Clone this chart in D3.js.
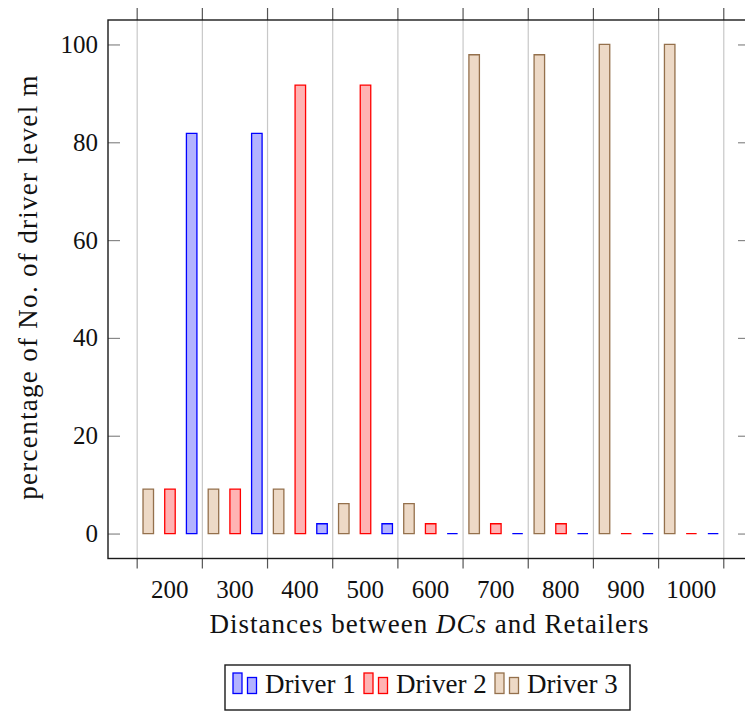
<!DOCTYPE html>
<html>
<head>
<meta charset="utf-8">
<script src="https://cdn.jsdelivr.net/npm/d3@7/dist/d3.min.js"></script>
<style>
  body { margin: 0; background: #fff; }
  svg text { font-family: 'Liberation Serif', 'DejaVu Serif', serif; fill: #111; }
</style>
</head>
<body>
<div id="chart"></div>
<script>
// categories (distance between DCs and retailers)
const distances = [200, 300, 400, 500, 600, 700, 800, 900, 1000];
const driverNames = ["Driver 1", "Driver 2", "Driver 3"];

// percentage of drivers at each level
const driver1 = [81.8, 81.8, 2, 2, 0, 0, 0, 0, 0];
const driver2 = [9.1, 9.1, 91.7, 91.7, 2, 2, 2, 0, 0];
const driver3 = [9.1, 9.1, 9.1, 6.1, 6.1, 97.9, 97.9, 100, 100];

const yTicks = [0, 20, 40, 60, 80, 100];

const FONT = "'Liberation Serif', 'DejaVu Serif', serif";

const styles = {
  "Driver 1": {stroke: "#0000ff", fill: "#b3b3ff"},
  "Driver 2": {stroke: "#ff0000", fill: "#ffb3b3"},
  "Driver 3": {stroke: "#94704c", fill: "#edd9c6"}
};

const series = [
  {name: "Driver 1", values: driver1},
  {name: "Driver 2", values: driver2},
  {name: "Driver 3", values: driver3}
];

const W = 745, H = 711;
const margin = {top: 20, left: 108};
const plotW = 642, plotH = 538.5;

const svg = d3.select("#chart").append("svg")
  .attr("width", W)
  .attr("height", H)
  .attr("font-family", FONT);

const g = svg.append("g")
  .attr("transform", "translate(" + margin.left + "," + margin.top + ")");

const x = d3.scaleLinear().domain([106, 1091]).range([0, plotW]);
const y = d3.scaleLinear().domain([-5.1, 105]).range([plotH, 0]);

// bars of one category are spread left to right as Driver 3, 2, 1
const slot = d3.scalePoint().domain(["Driver 3", "Driver 2", "Driver 1"]).range([-21, 22.4]);
const barW = 10.5;

// category boundaries carry the grid and the x tick marks
const boundaries = distances.map(d => d - 50).concat(distances[distances.length - 1] + 50);

// grid
g.append("g")
  .attr("transform", "translate(0," + plotH + ")")
  .call(d3.axisBottom(x).tickValues(boundaries).tickSize(-plotH).tickFormat(""))
  .call(s => s.select(".domain").remove())
  .selectAll("line")
  .attr("stroke", "#c8c8c8")
  .attr("stroke-width", 1.2);

// x tick marks, bottom and top, pointing out
g.append("g")
  .attr("transform", "translate(0," + plotH + ")")
  .call(d3.axisBottom(x).tickValues(boundaries).tickSize(10).tickFormat(""))
  .call(s => s.select(".domain").remove())
  .selectAll("line").attr("stroke", "#555").attr("stroke-width", 1.2);

g.append("g")
  .call(d3.axisTop(x).tickValues(boundaries).tickSize(12).tickFormat(""))
  .call(s => s.select(".domain").remove())
  .selectAll("line").attr("stroke", "#555").attr("stroke-width", 1.2);

// x labels at category centres
g.append("g")
  .attr("transform", "translate(0," + plotH + ")")
  .call(d3.axisBottom(x).tickValues(distances).tickSize(0).tickPadding(22).tickFormat(d3.format("d")))
  .attr("font-family", FONT)
  .call(s => s.select(".domain").remove())
  .selectAll("text")
  .style("font-size", "25px")
  .attr("fill", "#111");

// y axis, ticks inside
g.append("g")
  .call(d3.axisLeft(y).tickValues(yTicks).tickSize(-12).tickPadding(10))
  .attr("font-family", FONT)
  .call(s => s.select(".domain").remove())
  .call(s => s.selectAll("line").attr("stroke", "#888").attr("stroke-width", 1.2))
  .selectAll("text")
  .style("font-size", "25px")
  .attr("fill", "#111");

g.append("g")
  .attr("transform", "translate(" + plotW + ",0)")
  .call(d3.axisRight(y).tickValues(yTicks).tickSize(-12).tickFormat(""))
  .call(s => s.select(".domain").remove())
  .selectAll("line").attr("stroke", "#888").attr("stroke-width", 1.2);

// bars
series.forEach(s => {
  g.append("g")
    .selectAll("path")
    .data(s.values)
    .enter()
    .append("path")
    .attr("d", (v, i) => {
      let cx = x(distances[i]) + slot(s.name);
      return "M" + (cx - barW / 2) + "," + y(0) +
             "H" + (cx + barW / 2) + "V" + y(v) +
             "H" + (cx - barW / 2) + "Z";
    })
    .attr("fill", styles[s.name].fill)
    .attr("stroke", styles[s.name].stroke)
    .attr("stroke-width", 1.3);
});

// frame
g.append("rect")
  .attr("width", plotW)
  .attr("height", plotH)
  .attr("fill", "none")
  .attr("stroke", "#1a1a1a")
  .attr("stroke-width", 1.4);

// axis titles
const xTitle = svg.append("text")
  .attr("x", 429.5)
  .attr("y", 633)
  .attr("text-anchor", "middle")
  .style("font-size", "27px")
  .style("letter-spacing", "1px");
xTitle.append("tspan").text("Distances between ");
xTitle.append("tspan").style("font-style", "italic").text("DCs");
xTitle.append("tspan").text(" and Retailers");

svg.append("text")
  .attr("transform", "translate(37,287) rotate(-90)")
  .attr("text-anchor", "middle")
  .style("font-size", "27px")
  .style("letter-spacing", "1.3px")
  .text("percentage of No. of driver level m");

// legend
const legend = svg.append("g").attr("transform", "translate(225,665)");
legend.append("rect")
  .attr("width", 405)
  .attr("height", 45)
  .attr("fill", "#fff")
  .attr("stroke", "#1a1a1a")
  .attr("stroke-width", 1.4);

const item = legend.selectAll(".item")
  .data(driverNames)
  .enter()
  .append("g")
  .attr("class", "item")
  .attr("transform", (d, i) => "translate(" + (8 + i * 131) + ",0)");

item.append("rect")
  .attr("x", 0).attr("y", 8).attr("width", 9).attr("height", 20.5)
  .attr("fill", d => styles[d].fill)
  .attr("stroke", d => styles[d].stroke)
  .attr("stroke-width", 1.3);

item.append("rect")
  .attr("x", 14.5).attr("y", 12.5).attr("width", 9).attr("height", 16)
  .attr("fill", d => styles[d].fill)
  .attr("stroke", d => styles[d].stroke)
  .attr("stroke-width", 1.3);

item.append("text")
  .attr("x", 32)
  .attr("y", 28)
  .style("font-size", "27px")
  .text(d => d);
</script>
</body>
</html>
